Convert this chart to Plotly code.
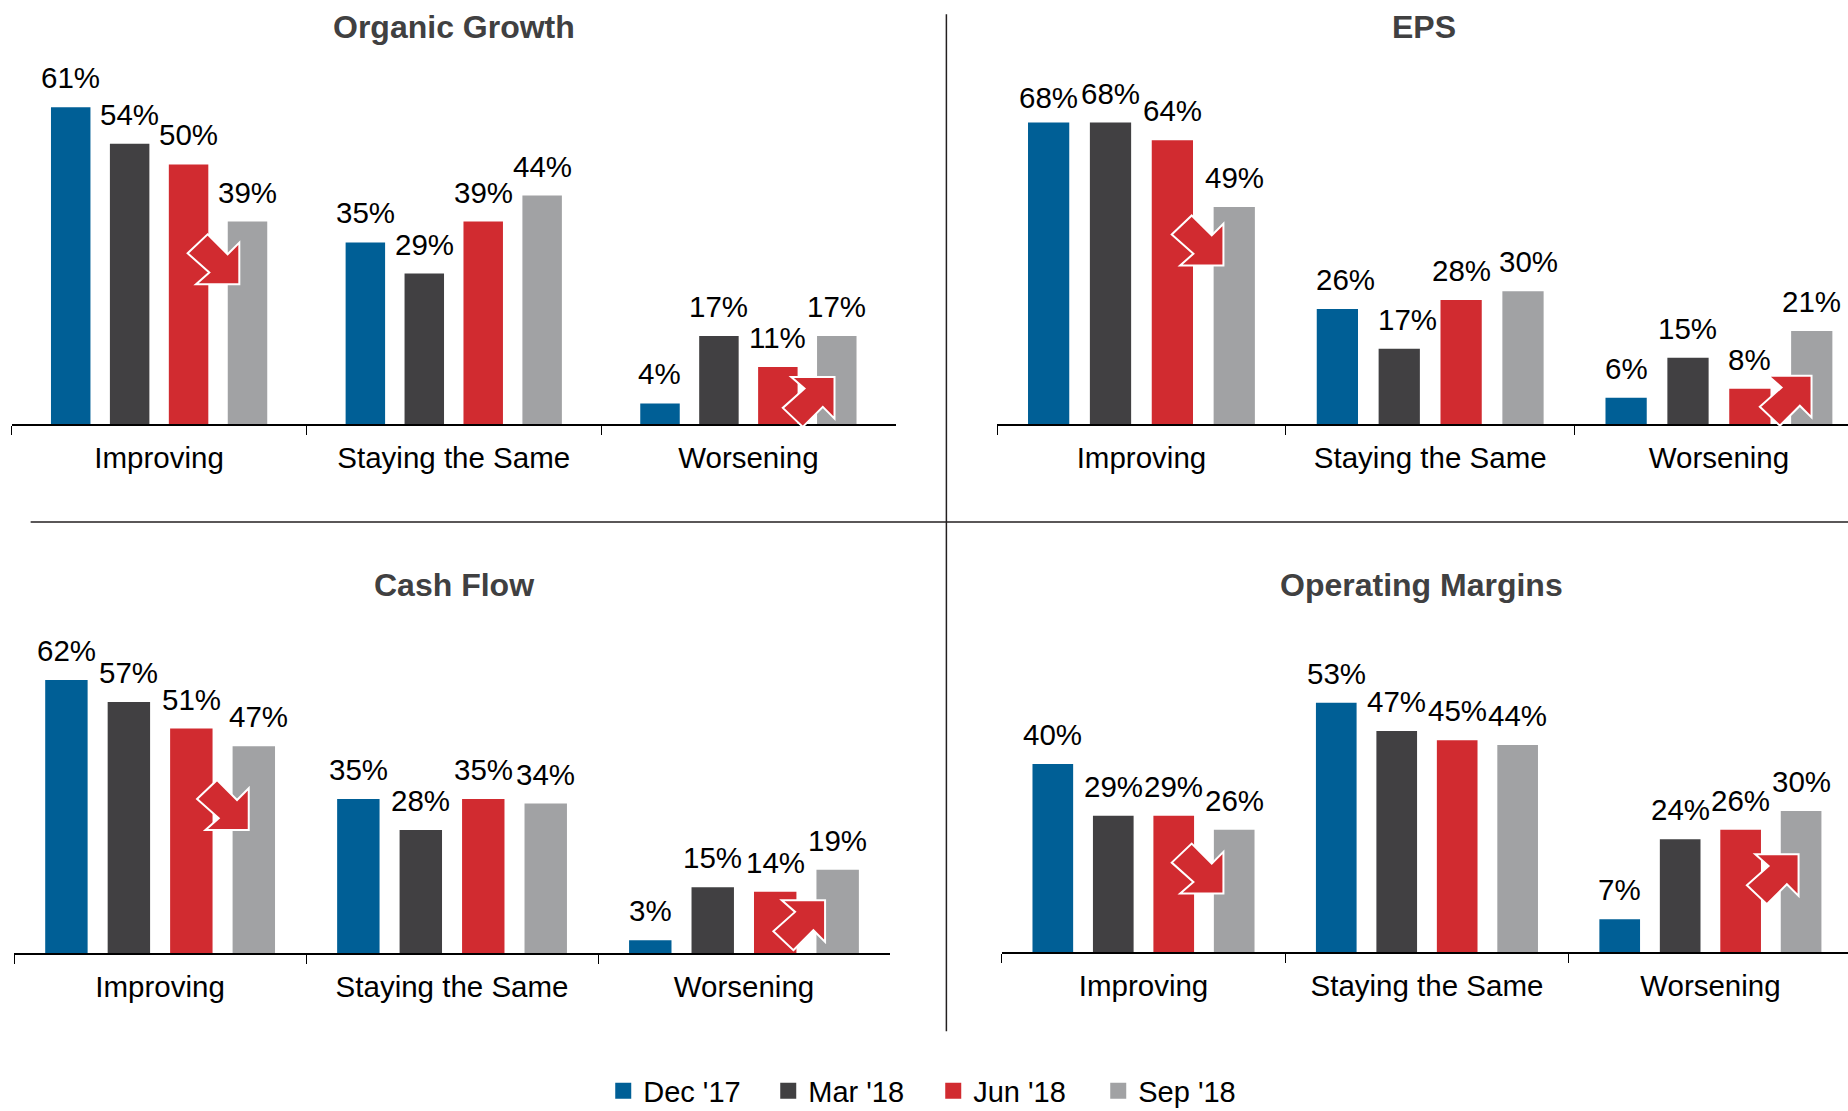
import plotly.graph_objects as go

W, H = 1848, 1111
FONT = "Liberation Sans"

categories = ["Improving", "Staying the Same", "Worsening"]
series_names = ["Dec '17", "Mar '18", "Jun '18", "Sep '18"]
colors = ["#005F96", "#414042", "#D12B30", "#A1A2A4"]

organic_dec = [61, 35, 4]
organic_mar = [54, 29, 17]
organic_jun = [50, 39, 11]
organic_sep = [39, 44, 17]

eps_dec = [68, 26, 6]
eps_mar = [68, 17, 15]
eps_jun = [64, 28, 8]
eps_sep = [49, 30, 21]

cash_dec = [62, 35, 3]
cash_mar = [57, 28, 15]
cash_jun = [51, 35, 14]
cash_sep = [47, 34, 19]

margin_dec = [40, 53, 7]
margin_mar = [29, 47, 24]
margin_jun = [29, 45, 26]
margin_sep = [26, 44, 30]

S = 1848 / 1568
panels = [
    dict(title="Organic Growth", data=[organic_dec, organic_mar, organic_jun, organic_sep],
         x0=10*S, cat=250*S, base=360*S, unit=5.197, ymax=70, xmax=2.5, step=50/250, bw=33.5/250,
         tx=385*S, ty=23*S, down=(181*S, 220*S), up=(686*S, 341*S)),
    dict(title="EPS", data=[eps_dec, eps_mar, eps_jun, eps_sep],
         x0=846*S, cat=245*S, base=360*S, unit=4.437, ymax=80, xmax=2.447, step=52.5/245, bw=35/245,
         tx=1208*S, ty=23*S, down=(1016*S, 204*S), up=(1515*S, 340*S)),
    dict(title="Cash Flow", data=[cash_dec, cash_mar, cash_jun, cash_sep],
         x0=12*S, cat=247.7*S, base=809*S, unit=4.41, ymax=80, xmax=2.5, step=53/247.7, bw=36/247.7,
         tx=385*S, ty=496*S, down=(189*S, 683*S), up=(678*S, 785*S)),
    dict(title="Operating Margins", data=[margin_dec, margin_mar, margin_jun, margin_sep],
         x0=850*S, cat=240.5*S, base=808*S, unit=4.71, ymax=70, xmax=2.485, step=51.3/240.5, bw=34.5/240.5,
         tx=1206*S, ty=496*S, down=(1016*S, 737*S), up=(1504*S, 746*S)),
]

# small hand placement of a few value labels: (panel, series, category) -> (dx, dy) in px
LABEL_NUDGE = {
    (1, 0, 0): (0, -4), (1, 0, 1): (8, 0), (1, 1, 1): (8, 0), (1, 3, 1): (5, 0),
    (2, 3, 0): (5, 0),
}

ARROW = [(-5.7, -25), (14.3, -5), (26, -16.7), (26, 25), (-17.3, 25), (-4, 13.3), (-25.7, -6)]


def arrow_path(cx, cy, flip):
    sign = -1 if flip else 1
    pts = [((cx + dx) / W, 1 - (cy + sign * dy) / H) for dx, dy in ARROW]
    return "M" + " L".join(f"{x:.5f},{y:.5f}" for x, y in pts) + " Z"


fig = go.Figure()
annotations, shapes = [], []
layout_axes = {}

for n, p in enumerate(panels):
    sfx = "" if n == 0 else str(n + 1)
    xname, yname = "x" + sfx, "y" + sfx
    for i, vals in enumerate(p["data"]):
        off = (i - 1.5) * p["step"]
        fig.add_trace(go.Bar(x=categories, y=vals, xaxis=xname, yaxis=yname, name=series_names[i],
                             marker=dict(color=colors[i], line=dict(width=0)),
                             width=p["bw"], offset=off - p["bw"] / 2, showlegend=False, hoverinfo="skip"))
        for j, v in enumerate(vals):
            dx, dy = LABEL_NUDGE.get((n, i, j), (0, 0))
            annotations.append(dict(x=j + off, y=v, xref=xname, yref=yname, text=f"{v}%", showarrow=False,
                                    xanchor="center", yanchor="bottom", xshift=dx, yshift=11 + dy,
                                    font=dict(family=FONT, size=29.5, color="#000000")))
    right = p["x0"] + (p["xmax"] + 0.5) * p["cat"]
    top = p["base"] - p["ymax"] * p["unit"]
    layout_axes["xaxis" + sfx] = dict(
        domain=[p["x0"] / W, min(right / W, 1)], anchor=yname, type="category",
        categoryorder="array", categoryarray=categories, range=[-0.5, p["xmax"]],
        showline=True, linecolor="#000000", linewidth=2, ticks="outside", tickson="boundaries",
        ticklen=9, tickwidth=1, tickcolor="#000000", showgrid=False, zeroline=False,
        tickfont=dict(family=FONT, size=29.5, color="#000000"), ticklabelstandoff=6, fixedrange=True)
    layout_axes["yaxis" + sfx] = dict(
        domain=[1 - p["base"] / H, 1 - top / H], anchor=xname, range=[0, p["ymax"]], visible=False, fixedrange=True)
    annotations.append(dict(x=p["tx"] / W, y=1 - p["ty"] / H, xref="paper", yref="paper", text=f"<b>{p['title']}</b>",
                            showarrow=False, xanchor="center", yanchor="middle",
                            font=dict(family=FONT, size=32, color="#404041")))
    for pos, flip in ((p["down"], False), (p["up"], True)):
        shapes.append(dict(type="path", xref="paper", yref="paper", path=arrow_path(pos[0], pos[1], flip),
                           fillcolor="#D12B30", line=dict(color="#FFFFFF", width=2), layer="above"))

shapes.append(dict(type="line", xref="paper", yref="paper", x0=803*S/W, x1=803*S/W, y0=1-12*S/H, y1=1-875*S/H,
                   line=dict(color="#231F20", width=1.5)))
shapes.append(dict(type="line", xref="paper", yref="paper", x0=26*S/W, x1=1, y0=1-443*S/H, y1=1-443*S/H,
                   line=dict(color="#231F20", width=1.5)))

for name, col in zip(series_names, colors):
    fig.add_trace(go.Scatter(x=[None], y=[None], mode="markers", name=name,
                             marker=dict(symbol="square", size=16, color=col), hoverinfo="skip"))

fig.update_layout(
    width=W, height=H, margin=dict(l=0, r=0, t=0, b=0, autoexpand=False), paper_bgcolor="#FFFFFF", plot_bgcolor="#FFFFFF",
    barmode="overlay", annotations=annotations, shapes=shapes, font=dict(family=FONT),
    legend=dict(orientation="h", x=0.505, y=1-1091/H, xanchor="center", yanchor="middle",
                font=dict(family=FONT, size=29, color="#000000"), entrywidth=120, entrywidthmode="pixels",
                itemclick=False, itemdoubleclick=False, bgcolor="rgba(0,0,0,0)", traceorder="normal",
                tracegroupgap=0, itemwidth=30),
    **layout_axes,
)

fig.write_html("out.html", config=dict(displayModeBar=False),
               post_script="document.body.style.margin='0';document.documentElement.style.overflow='hidden';")
